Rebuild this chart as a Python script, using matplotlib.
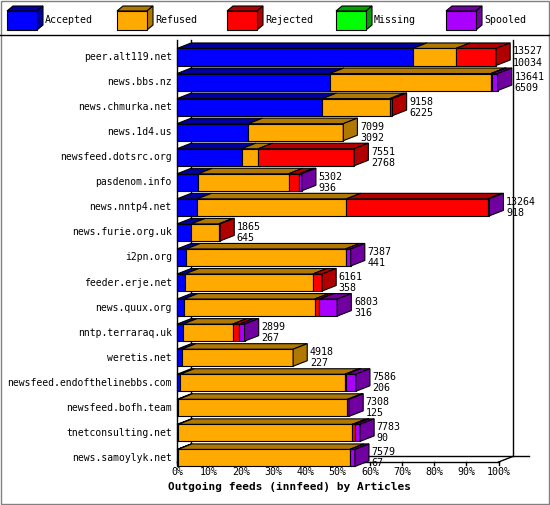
import matplotlib
matplotlib.use("Agg")
import matplotlib.pyplot as plt
from matplotlib.patches import Polygon, Rectangle

hosts = ["peer.alt119.net", "news.bbs.nz", "news.chmurka.net", "news.1d4.us",
         "newsfeed.dotsrc.org", "pasdenom.info", "news.nntp4.net", "news.furie.org.uk",
         "i2pn.org", "feeder.erje.net", "news.quux.org", "nntp.terraraq.uk",
         "weretis.net", "newsfeed.endofthelinebbs.com", "newsfeed.bofh.team",
         "tnetconsulting.net", "news.samoylyk.net"]
# percentages of the x axis (segment widths)
accepted = [73.3, 47.5, 45.2, 22.2, 20.1, 6.6, 6.3, 4.4, 2.8, 2.4, 2.1, 1.8, 1.5, 1.0, 0.4, 0.4, 0.2]
refused  = [13.4, 50.1, 21.0, 29.5, 5.2, 28.1, 46.4, 8.6, 49.6, 39.8, 40.7, 15.5, 34.6, 51.2, 52.6, 54.1, 53.5]
rejected = [12.5, 0.4, 0.8, 0, 29.8, 3.3, 43.9, 0.4, 0, 2.9, 1.5, 2.1, 0, 0.5, 0, 0.8, 0]
missing  = [0]*17
spooled  = [0, 1.7, 0, 0, 0, 0.8, 0.5, 0, 1.6, 0, 5.5, 1.6, 0, 2.9, 0.5, 1.6, 1.6]
totals   = [13527, 13641, 9158, 7099, 7551, 5302, 13264, 1865, 7387, 6161, 6803, 2899, 4918, 7586, 7308, 7783, 7579]
acc_cnt  = [10034, 6509, 6225, 3092, 2768, 936, 918, 645, 441, 358, 316, 267, 227, 206, 125, 90, 67]
ticks = [0, 10, 20, 30, 40, 50, 60, 70, 80, 90, 100]

names = ["Accepted", "Refused", "Rejected", "Missing", "Spooled"]
front = ["#0000ff", "#ffaa00", "#ff0000", "#00ff00", "#aa00ff"]
topc = ["#0000a0", "#b07800", "#b00000", "#00a000", "#7000a0"]
side = ["#0000a0", "#b07800", "#b00000", "#00a000", "#7000a0"]

W, H = 550, 505
fig = plt.figure(figsize=(W/100, H/100), dpi=100)
fig.patch.set_facecolor("white")
font = "DejaVu Sans Mono"

ax_l, ax_r, ax_t, ax_b = 170, 549, 38, 470
ax = fig.add_axes([ax_l/W, 1-ax_b/H, (ax_r-ax_l)/W, (ax_b-ax_t)/H])
ppx = 3.216
x0 = 177
ax.set_xlim((ax_l-x0)/ppx, (ax_r-x0)/ppx)
row0, rsp = 57, 25.06
ax.set_ylim((ax_b-row0)/rsp, (ax_t-row0)/rsp)
ax.axis("off")

dx, dy = 4.4, 0.22
h = 0.34
n = len(hosts)
bottom_y = (462-row0)/rsp
top_y = (40-row0)/rsp
ax.plot([0, 0], [top_y, bottom_y], color="black", lw=1)
ax.plot([dx, dx], [top_y, bottom_y-dy], color="black", lw=1)
ax.plot([100+dx, 100+dx], [top_y, bottom_y-dy], color="black", lw=1)
ax.plot([dx, 100+dx+5], [bottom_y-dy, bottom_y-dy], color="black", lw=1)
ax.plot([0, 100], [bottom_y, bottom_y], color="black", lw=1)
ax.plot([100, 100+dx], [bottom_y, bottom_y-dy], color="black", lw=1)
for t in ticks:
    ax.plot([t, t], [bottom_y, bottom_y+0.12], color="black", lw=1)
    ax.text(t, bottom_y+0.2, f"{t}%", ha="center", va="top", fontsize=7.2, family=font)

for i in range(n):
    segs = [accepted[i], refused[i], rejected[i], missing[i], spooled[i]]
    x = 0
    last = 0
    for k, w in enumerate(segs):
        if w <= 0:
            continue
        ax.add_patch(Rectangle((x, i-h), w, 2*h, facecolor=front[k], edgecolor="black", lw=0.8, zorder=3))
        ax.add_patch(Polygon([(x, i-h), (x+dx, i-h-dy), (x+w+dx, i-h-dy), (x+w, i-h)],
                             closed=True, facecolor=topc[k], edgecolor="black", lw=0.8, zorder=2))
        x += w
        last = k
    ax.add_patch(Polygon([(x, i-h), (x+dx, i-h-dy), (x+dx, i+h-dy), (x, i+h)],
                         closed=True, facecolor=side[last], edgecolor="black", lw=0.8, zorder=3))
    ax.text(x+dx+0.8, i-0.02, str(totals[i]), ha="left", va="bottom", fontsize=7.2, family=font, zorder=4)
    ax.text(x+dx+0.8, i+0.02, str(acc_cnt[i]), ha="left", va="top", fontsize=7.2, family=font, zorder=4)
    ax.text(-1.6, i, hosts[i], ha="right", va="center", fontsize=7.0, family=font)

ax.text(35, bottom_y+0.8, "Outgoing feeds (innfeed) by Articles", ha="center", va="top",
        fontsize=8, family=font, fontweight="bold")

fa = fig.add_axes([0, 0, 1, 1])
fa.set_xlim(0, W); fa.set_ylim(H, 0); fa.axis("off")
fa.add_patch(Rectangle((0.5, 0.5), W-1.5, H-1.5, fill=False, edgecolor="#808080", lw=1))
fa.plot([0, W], [35, 35], color="black", lw=1)
lx = [7, 117, 227, 336, 446]
for k, nm in enumerate(names):
    x, y = lx[k], 11
    fa.add_patch(Polygon([(x, y), (x+6, y-5), (x+36, y-5), (x+30, y)], closed=True,
                         facecolor=topc[k], edgecolor="black", lw=0.8))
    fa.add_patch(Polygon([(x+30, y), (x+36, y-5), (x+36, y+14), (x+30, y+19)], closed=True,
                         facecolor=side[k], edgecolor="black", lw=0.8))
    fa.add_patch(Rectangle((x, y), 30, 19, facecolor=front[k], edgecolor="black", lw=0.8))
    fa.text(x+38, 20, nm, ha="left", va="center", fontsize=7.2, family=font)

fig.savefig("out.png", dpi=100)
